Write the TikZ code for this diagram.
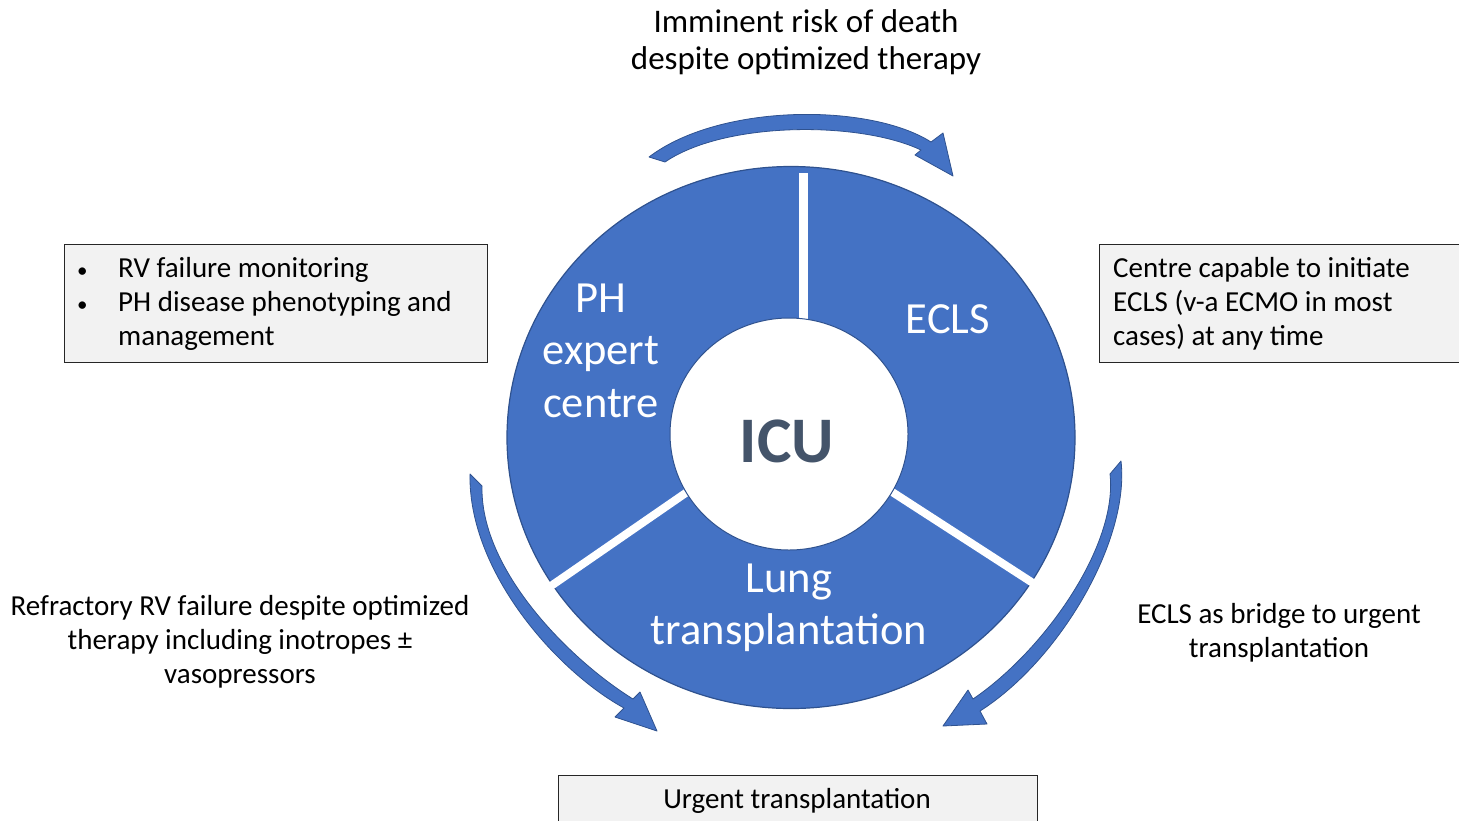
\documentclass[tikz,border=0pt]{standalone}
\usepackage{fontspec}
\setmainfont{Carlito}
\definecolor{segblue}{HTML}{4472C4}
\definecolor{segline}{HTML}{2F528F}
\definecolor{icutext}{HTML}{44546A}
\definecolor{boxfill}{HTML}{F2F2F2}
\newcommand{\smallbullet}{{\fontsize{21}{21}\selectfont •}}
\begin{document}
\begin{tikzpicture}[x=1pt,y=-1pt,
  bodytext/.style={font=\fontsize{29}{34.3}\selectfont, inner sep=0pt},
  toptext/.style={font=\fontsize{33}{37}\selectfont, inner sep=0pt},
  segtext/.style={font=\fontsize{44.5}{52.5}\selectfont, text=white, inner sep=0pt},
  infobox/.style={draw=black!85, line width=1pt, fill=boxfill, inner sep=0pt},
  bigarrow/.style={fill=segblue, draw=segline, line width=0.8pt, line join=round},
  gapbar/.style={draw=white, line width=9pt}
]
\useasboundingbox (0,0) rectangle (1459,820);

% donut
\filldraw[fill=segblue, draw=segline, line width=1.2pt] (791,437.5) ellipse [x radius=284pt, y radius=271pt];
\draw[gapbar] (803,173) -- (803,330);
\draw[gapbar, line width=8pt] (690,490) -- (548,588);
\draw[gapbar, line width=8pt] (886,488) -- (1036,585);
\filldraw[fill=white, draw=segline, line width=1pt] (789,434) ellipse [x radius=119pt, y radius=116pt];

% segment labels
\node[segtext, anchor=base] (ph) at (601,312) {\begin{tabular}[t]{@{}c@{}}PH\\expert\\centre\end{tabular}};
\node[segtext, anchor=base] (ecls) at (948,333) {ECLS};
\node[segtext, anchor=base] (lung) at (789,592) {\begin{tabular}[t]{@{}c@{}}Lung\\transplantation\end{tabular}};
\node[font=\fontsize{65}{78}\selectfont\bfseries, text=icutext, anchor=base, inner sep=0pt] (icu) at (787,462) {ICU};

% curved arrows
\path[bigarrow] (649,157) .. controls (720,103) and (870,103) .. (931,142)
  -- (943,133) -- (953,176) -- (915,155) -- (921,150)
  .. controls (860,121) and (725,121) .. (665,162) -- cycle;
\path[bigarrow] (470,474) .. controls (468,570) and (555,670) .. (624,708)
  -- (615,717) -- (657,731) -- (640,692) -- (633,699)
  .. controls (570,660) and (480,570) .. (482,486) -- cycle;
\path[bigarrow] (1121,461) .. controls (1130,540) and (1060,660) .. (980,711)
  -- (987,724) -- (943,726) -- (968,690) -- (973,699)
  .. controls (1045,650) and (1118,545) .. (1110,474) -- cycle;

% top text
\node[toptext, anchor=base] (risk) at (806,32) {\begin{tabular}[t]{@{}c@{}}Imminent risk of death\\despite optimized therapy\end{tabular}};

% left box
\node[infobox, minimum width=423pt, minimum height=118pt, anchor=north west] (boxL) at (64,244) {};
\node[bodytext, anchor=base west] (boxLtext) at (77,277) {\begin{tabular}[t]{@{}p{41pt}@{}l@{}}\smallbullet&RV failure monitoring\\\smallbullet&PH disease phenotyping and\\&management\end{tabular}};

% right box
\node[infobox, minimum width=380pt, minimum height=118pt, anchor=north west] (boxR) at (1099,244) {};
\node[bodytext, anchor=base west] (boxRtext) at (1113,277) {\begin{tabular}[t]{@{}l@{}}Centre capable to initiate\\ECLS (v-a ECMO in most\\cases) at any time\end{tabular}};

% bottom box
\node[infobox, minimum width=479pt, minimum height=70pt, anchor=north west] (boxB) at (558,775) {};
\node[bodytext, anchor=base] (urgent) at (797,808) {Urgent transplantation};

% side texts
\node[bodytext, anchor=base] (refr) at (240,615) {\begin{tabular}[t]{@{}c@{}}Refractory RV failure despite optimized\\therapy including inotropes ±\\vasopressors\end{tabular}};
\node[bodytext, anchor=base] (bridge) at (1279,623) {\begin{tabular}[t]{@{}c@{}}ECLS as bridge to urgent\\transplantation\end{tabular}};
\end{tikzpicture}
\end{document}
